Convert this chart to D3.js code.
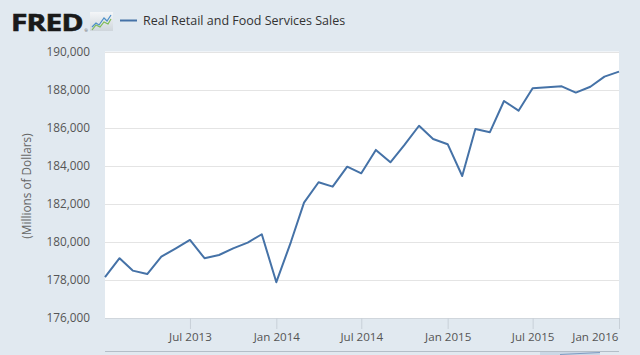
<!DOCTYPE html>
<html>
<head>
<meta charset="utf-8">
<script src="https://cdn.jsdelivr.net/npm/d3@7"></script>
<style>
  html, body { margin: 0; padding: 0; background: #e1e9f0; }
  svg { display: block; }
  text { font-family: "Open Sans", sans-serif; }
</style>
</head>
<body>
<svg id="chart" width="640" height="355"></svg>
<script>
// ---- data ----
const startMonth = "2013-01";
const values = [
  178150, 179140, 178490, 178310, 179220, 179660, 180100, 179140, 179310, 179660, 179960, 180400,
  177880, 179990, 182060, 183130, 182900, 183950, 183600, 184830, 184180, 185090, 186100, 185400,
  185130, 183460, 185930, 185760, 187400, 186890, 188070, 188120, 188170, 187840, 188150, 188680,
  188940
];
const xTickLabels = ["Jul 2013", "Jan 2014", "Jul 2014", "Jan 2015", "Jul 2015", "Jan 2016"];
const yTicks = [176000, 178000, 180000, 182000, 184000, 186000, 188000, 190000];
const seriesName = "Real Retail and Food Services Sales";
const yTitle = "(Millions of Dollars)";

// ---- build ----
(function () {
const parseMonth = d3.timeParse("%Y-%m");
const parseLabel = d3.timeParse("%b %Y");
const t0 = parseMonth(startMonth);
const data = values.map((v, i) => ({ date: d3.timeMonth.offset(t0, i), value: v }));

const svg = d3.select("#chart");
const W = 640, H = 355;
const pL = 105, pR = 619, pT = 51.5, pB = 318;

svg.append("rect").attr("width", W).attr("height", H).attr("fill", "#e1e9f0");

const x = d3.scaleTime()
  .domain(d3.extent(data, d => d.date))
  .range([pL, pR]);
const y = d3.scaleLinear()
  .domain([d3.min(yTicks), d3.max(yTicks)])
  .range([pB, pT]);

// plot background
svg.append("rect")
  .attr("x", pL).attr("y", pT)
  .attr("width", pR - pL).attr("height", pB - pT)
  .attr("fill", "#ffffff");

// grid lines
svg.append("g")
  .selectAll("line")
  .data(yTicks.slice(1))
  .join("line")
  .attr("x1", pL).attr("x2", pR)
  .attr("y1", d => Math.round(y(d)) + 0.5).attr("y2", d => Math.round(y(d)) + 0.5)
  .attr("stroke", "#e4e4e4").attr("stroke-width", 1);

// y axis labels
const yAxis = d3.axisLeft(y).tickValues(yTicks).tickFormat(d3.format(",")).tickSize(0).tickPadding(15);
const gy = svg.append("g").attr("transform", `translate(${pL},0)`).call(yAxis);
gy.select(".domain").remove();
gy.selectAll("text").attr("fill", "#555").attr("font-size", "11.8px")
  .attr("font-family", "'Open Sans', sans-serif");

// x axis
const xTickDates = xTickLabels.map(parseLabel);
const xAxis = d3.axisBottom(x).tickValues(xTickDates).tickFormat(d3.timeFormat("%b %Y"))
  .tickSize(11).tickPadding(4);
const gx = svg.append("g").attr("transform", `translate(0,${pB})`).call(xAxis);
gx.select(".domain").attr("stroke", "#d0d6dc").attr("d", `M${pL},0.5H${pR}`);
gx.selectAll(".tick line").attr("stroke", "#c8d0d8");
gx.selectAll("text").attr("fill", "#555").attr("font-size", "11.6px")
  .attr("font-family", "'Open Sans', sans-serif");
// keep the last label inside the chart, as the reference does
gx.selectAll(".tick").filter((d, i, n) => i === n.length - 1)
  .select("text").attr("text-anchor", "end").attr("x", pR - x(xTickDates[xTickDates.length - 1]) - 1);

// y title
svg.append("text")
  .attr("transform", `translate(31,186) rotate(-90)`)
  .attr("text-anchor", "middle")
  .attr("fill", "#666").attr("font-size", "11.8px")
  .text(yTitle);

// series line
const line = d3.line().x(d => x(d.date)).y(d => y(d.value));
svg.append("path")
  .datum(data)
  .attr("d", line)
  .attr("fill", "none")
  .attr("stroke", "#4572a7")
  .attr("stroke-width", 2)
  .attr("stroke-linejoin", "round");

// navigator fragment at bottom
svg.append("line")
  .attr("x1", pL).attr("x2", pR)
  .attr("y1", 351.5).attr("y2", 351.5)
  .attr("stroke", "#b4bec8").attr("stroke-width", 1);
svg.append("rect")
  .attr("x", 540).attr("y", 352).attr("width", 60).attr("height", 3)
  .attr("fill", "#cbd8e6");
svg.append("path")
  .attr("d", "M560,354.5 L580,353.5 L600,352.5")
  .attr("fill", "none").attr("stroke", "#7f9cc2").attr("stroke-width", 1);

// header: FRED logo
svg.append("text")
  .attr("transform", "translate(11,31) scale(1.27,1)")
  .attr("font-family", "'DejaVu Sans', sans-serif")
  .attr("font-weight", "bold")
  .attr("font-size", "23.5px")
  .attr("letter-spacing", "-0.6px")
  .attr("fill", "#1a1a1a")
  .attr("stroke", "#1a1a1a").attr("stroke-width", 0.6)
  .text("FRED");
svg.append("text")
  .attr("x", 84.5).attr("y", 32)
  .attr("font-size", "4px").attr("fill", "#444")
  .text("®");

// logo icon
const icon = svg.append("g").attr("transform", "translate(90,12)");
const grad = svg.append("defs").append("linearGradient").attr("id", "ig")
  .attr("x1", 0).attr("y1", 0).attr("x2", 0).attr("y2", 1);
grad.append("stop").attr("offset", "0%").attr("stop-color", "#f4f6f8");
grad.append("stop").attr("offset", "100%").attr("stop-color", "#cfd6dc");
icon.append("rect").attr("width", 23).attr("height", 19).attr("fill", "url(#ig)");
icon.append("path").attr("d", "M2,15 L6,11 L9,13 L14,6 L17,9 L21,3")
  .attr("fill", "none").attr("stroke", "#4d8fc8").attr("stroke-width", 1.2);
icon.append("path").attr("d", "M2,18 L6,13 L10,15 L14,10 L18,12 L21,7")
  .attr("fill", "none").attr("stroke", "#7dbb55").attr("stroke-width", 1.2);

// legend
svg.append("line")
  .attr("x1", 120).attr("x2", 137).attr("y1", 20.5).attr("y2", 20.5)
  .attr("stroke", "#4572a7").attr("stroke-width", 2);
svg.append("text")
  .attr("x", 143).attr("y", 25)
  .attr("fill", "#333").attr("font-size", "12.5px")
  .text(seriesName);
})();
</script>
</body>
</html>
